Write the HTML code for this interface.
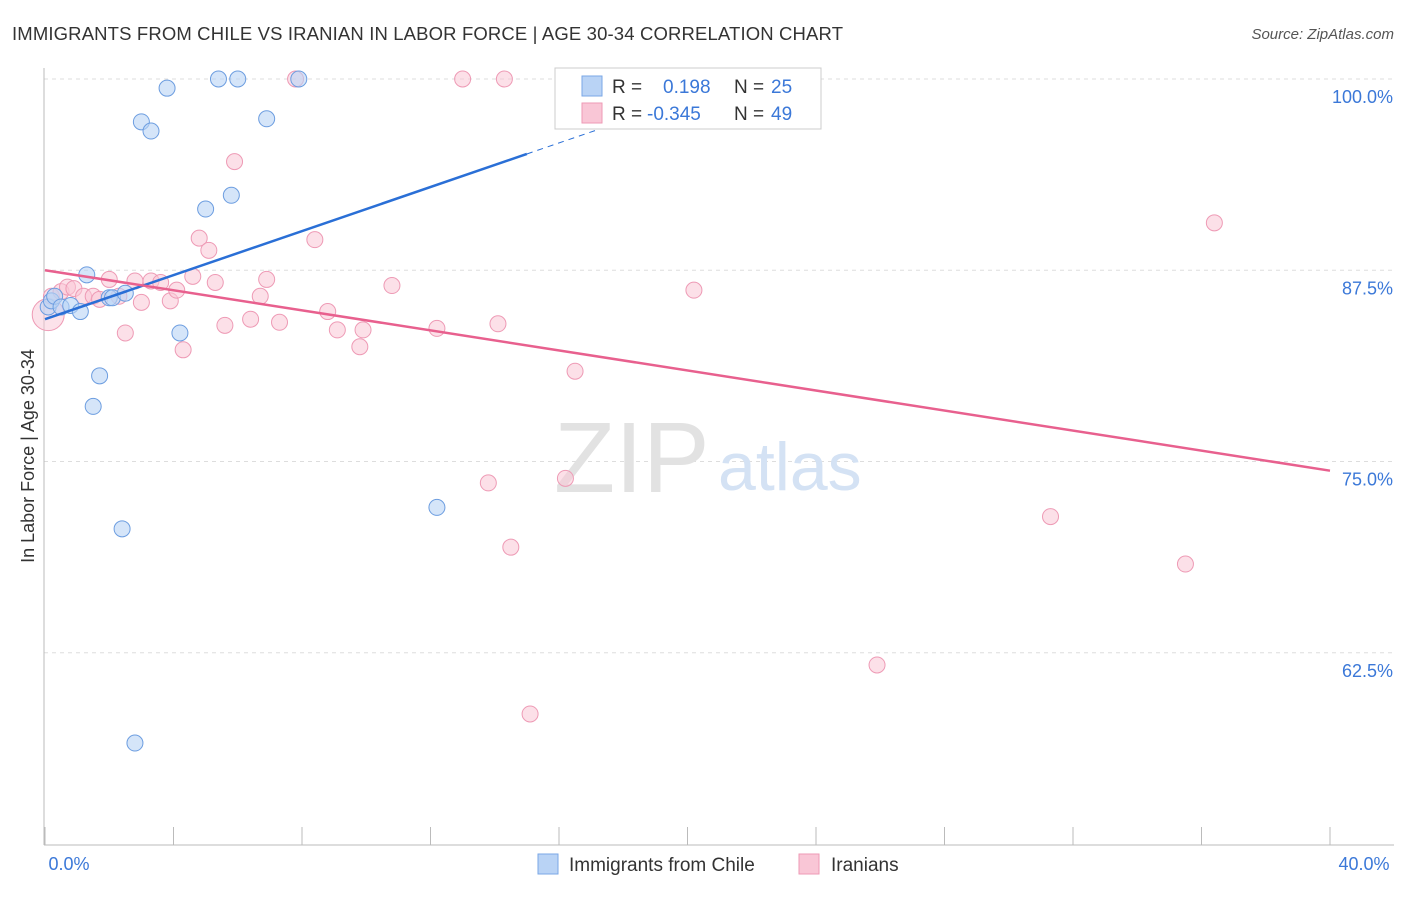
<!DOCTYPE html>
<html><head><meta charset="utf-8"><style>
body{margin:0;background:#fff;font-family:"Liberation Sans",sans-serif}
svg text{font-family:"Liberation Sans",sans-serif}
</style></head><body>
<svg width="1406" height="892" xmlns="http://www.w3.org/2000/svg" id="chart">
<text x="12" y="40" font-size="18.5" fill="#333" textLength="831">IMMIGRANTS FROM CHILE VS IRANIAN IN LABOR FORCE | AGE 30-34 CORRELATION CHART</text>
<text x="1394" y="39" font-size="15" fill="#555" text-anchor="end" font-style="italic">Source: ZipAtlas.com</text>
<g id="grid"></g>
<text x="554" y="492" font-size="100" fill="#e2e2e2" font-family="Liberation Serif">ZIP</text>
<text x="718" y="490" font-size="68" fill="#d4e2f4">atlas</text>
<line x1="44" y1="68" x2="44" y2="845" stroke="#bbb"/>
<line x1="44" y1="845" x2="1394" y2="845" stroke="#bbb"/>
<g id="xticks"></g>
<g id="marks"></g>
<g id="trend"></g>
<text x="69" y="870" font-size="18" fill="#3b78d8" text-anchor="middle">0.0%</text>
<text x="1364" y="870" font-size="18" fill="#3b78d8" text-anchor="middle">40.0%</text>
<text transform="translate(34,456) rotate(-90)" font-size="18" fill="#333" text-anchor="middle">In Labor Force | Age 30-34</text>
<g>
<rect x="555" y="68" width="266" height="61" fill="#fff" stroke="#ccc"/>
<rect x="582" y="76" width="20" height="20" fill="#b9d3f5" stroke="#7aa7e6"/>
<rect x="582" y="103" width="20" height="20" fill="#f9c6d6" stroke="#ee9ab5"/>
<text x="612" y="93" font-size="19" fill="#333">R = </text><text x="663" y="93" font-size="19" fill="#3b78d8">0.198</text>
<text x="734" y="93" font-size="19" fill="#333">N = </text><text x="771" y="93" font-size="19" fill="#3b78d8">25</text>
<text x="612" y="120" font-size="19" fill="#333">R = </text><text x="647" y="120" font-size="19" fill="#3b78d8">-0.345</text>
<text x="734" y="120" font-size="19" fill="#333">N = </text><text x="771" y="120" font-size="19" fill="#3b78d8">49</text>
</g>
<g>
<rect x="538" y="854" width="20" height="20" fill="#b9d3f5" stroke="#7aa7e6"/>
<text x="569" y="871" font-size="19" fill="#333">Immigrants from Chile</text>
<rect x="799" y="854" width="20" height="20" fill="#f9c6d6" stroke="#ee9ab5"/>
<text x="831" y="871" font-size="19" fill="#333">Iranians</text>
</g>
</svg>
<script>
const yTicks=[100,87.5,75,62.5];
const yTickLabels=["100.0%","87.5%","75.0%","62.5%"];
const xTicks=[0,4,8,12,16,20,24,28,32,36,40];
const chileX=[0.1,0.2,0.3,0.5,0.8,1.1,1.3,1.7,1.5,2.0,2.1,2.5,2.4,2.8,3.0,3.3,3.8,4.2,5.0,5.4,5.8,6.0,6.9,7.9,12.2];
const chileY=[85.1,85.5,85.8,85.1,85.2,84.8,87.2,80.6,78.6,85.7,85.7,86.0,70.6,56.6,97.2,96.6,99.4,83.4,91.5,100,92.4,100,97.4,100,72.0];
const iranX=[0.2,0.5,0.7,0.9,1.2,1.5,1.7,2.0,2.3,2.5,2.8,3.0,3.3,3.6,3.9,4.1,4.3,4.6,4.8,5.1,5.3,5.6,5.9,6.4,6.7,6.9,7.3,7.8,8.4,8.8,9.1,9.8,9.9,10.8,12.2,13.0,13.8,14.1,14.3,14.5,15.1,16.2,16.5,20.2,21.6,25.9,31.3,35.5,36.4];
const iranY=[85.8,86.1,86.4,86.3,85.8,85.8,85.6,86.9,85.8,83.4,86.8,85.4,86.8,86.7,85.5,86.2,82.3,87.1,89.6,88.8,86.7,83.9,94.6,84.3,85.8,86.9,84.1,100,89.5,84.8,83.6,82.5,83.6,86.5,83.7,100,73.6,84.0,100,69.4,58.5,73.9,80.9,86.2,100,61.7,71.4,68.3,90.6];
const trendChile=[[0,84.3],[15.0,95.1]];
const trendIran=[[0,87.5],[40,74.4]];
const X=v=>45+v/40*1285, Y=v=>79+(100-v)*15.3;
const NS="http://www.w3.org/2000/svg";
function mk(t,a,p){const e=document.createElementNS(NS,t);for(const k in a)e.setAttribute(k,a[k]);p.appendChild(e);return e;}
const grid=document.getElementById('grid');
yTicks.forEach((t,i)=>{
 const l=mk('line',{x1:44,x2:1394,y1:Y(t),y2:Y(t),stroke:'#ddd','stroke-dasharray':'4,4'},grid);
 
 
 const tx=mk('text',{x:1393,y:Y(t)+24,'font-size':18,fill:'#3b78d8','text-anchor':'end'},grid);
 tx.textContent=yTickLabels[i];
 
 
});
const xt=document.getElementById('xticks');
xTicks.forEach(t=>{
 const l=mk('line',{x1:X(t),x2:X(t),y1:827,y2:845,stroke:'#bbb'},xt);
 
 
});
const m=document.getElementById('marks');
let big=mk('circle',{cx:X(0.1),cy:Y(84.6),r:16,fill:'#f9c6d6','fill-opacity':0.5,stroke:'#ee9ab5'},m);


iranX.forEach((x,i)=>{
 const c=mk('circle',{cx:X(x),cy:Y(iranY[i]),r:8,fill:'#f9c6d6','fill-opacity':0.55,stroke:'#ee9ab5','stroke-width':1},m);
 
 
});
chileX.forEach((x,i)=>{
 const c=mk('circle',{cx:X(x),cy:Y(chileY[i]),r:8,fill:'#b9d3f5','fill-opacity':0.6,stroke:'#6c9de0','stroke-width':1},m);
 
 
});
const tr=document.getElementById('trend');
const s=(trendChile[1][1]-trendChile[0][1])/(trendChile[1][0]-trendChile[0][0]);
let a=mk('line',{x1:X(trendChile[0][0]),y1:Y(trendChile[0][1]),x2:X(trendChile[1][0]),y2:Y(trendChile[1][1]),stroke:'#2a6fd6','stroke-width':2.5},tr);


let b=mk('line',{x1:X(trendChile[1][0]),y1:Y(trendChile[1][1]),x2:X(18.5),y2:Y(trendChile[1][1]+s*3.5),stroke:'#2a6fd6','stroke-width':1,'stroke-dasharray':'6,5'},tr);


let c=mk('line',{x1:X(trendIran[0][0]),y1:Y(trendIran[0][1]),x2:X(trendIran[1][0]),y2:Y(trendIran[1][1]),stroke:'#e8608e','stroke-width':2.5},tr);


</script>
</body></html>
